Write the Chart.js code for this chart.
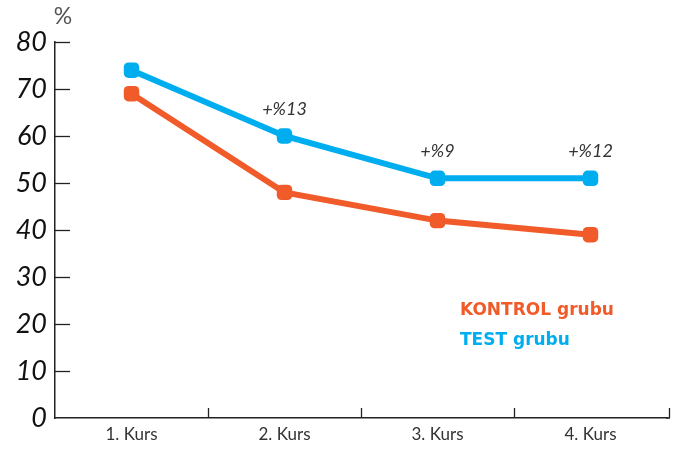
<!DOCTYPE html>
<html><head><meta charset="utf-8">
<script src="https://cdn.jsdelivr.net/npm/chart.js@4/dist/chart.umd.min.js"></script>
<style>html,body{margin:0;padding:0;background:#fff}#wrap{width:684px;height:452px}</style>
</head><body><div id="wrap"><canvas id="c" width="684" height="452"></canvas></div>
<script>
const categories = ['1. Kurs', '2. Kurs', '3. Kurs', '4. Kurs'];
const kontrolValues = [69, 48, 42, 39];
const testValues = [74, 60, 51, 51];
const diffLabels = ['', '+%13', '+%9', '+%12'];
const yTicks = [0, 10, 20, 30, 40, 50, 60, 70, 80];
const seriesNames = ['KONTROL grubu', 'TEST grubu'];
const ORANGE = '#F15A29', BLUE = '#00AEEF';

const extras = {
  id: 'extras',
  afterDraw(chart) {
    const ctx = chart.ctx, x = chart.scales.x, y = chart.scales.y, ca = chart.chartArea;
    ctx.save();
    ctx.strokeStyle = '#222'; ctx.lineWidth = 1.3;
    y.ticks.forEach((t, i) => {
      if (t.value === 0) return;
      const py = Math.round(y.getPixelForTick(i)) + 0.5;
      ctx.beginPath(); ctx.moveTo(ca.left, py); ctx.lineTo(ca.left + 15, py); ctx.stroke();
    });
    // extend baseline slightly past the plot
    ctx.lineWidth = 1.5;
    ctx.beginPath(); ctx.moveTo(ca.right - 1, ca.bottom); ctx.lineTo(ca.right + 3, ca.bottom); ctx.stroke();
    ctx.lineWidth = 1.3;
    for (let i = 1; i <= categories.length; i++) {
      let p = Math.round((x.getPixelForValue(i - 1) + x.getPixelForValue(i)) / 2) + 0.5;
      if (i === categories.length) p = Math.round(ca.right) + 2.5;
      ctx.beginPath(); ctx.moveTo(p, ca.bottom); ctx.lineTo(p, ca.bottom - 10); ctx.stroke();
    }
    ctx.fillStyle = '#555'; ctx.font = '23px "Lato"'; ctx.textAlign = 'center'; ctx.textBaseline = 'middle';
    ctx.fillText('%', ca.left + 8, 17);
    const meta = chart.getDatasetMeta(1);
    ctx.font = 'italic 18px "Lato"'; ctx.fillStyle = '#333';
    meta.data.forEach((pt, i) => {
      if (diffLabels[i]) ctx.fillText(diffLabels[i], pt.x, pt.y - 27);
    });
    ctx.textAlign = 'left'; ctx.font = 'bold 17px "DejaVu Sans"';
    ctx.fillStyle = ORANGE; ctx.fillText(seriesNames[0], 460, 311);
    ctx.fillStyle = BLUE; ctx.fillText(seriesNames[1], 460, 341);
    ctx.restore();
  }
};

new Chart(document.getElementById('c'), {
  type: 'line',
  data: {
    labels: categories,
    datasets: [
      { label: seriesNames[0], data: kontrolValues, borderColor: ORANGE, backgroundColor: ORANGE, borderWidth: 6,
        pointStyle: 'rectRounded', pointRadius: 9, pointHoverRadius: 9, pointBorderWidth: 0, tension: 0 },
      { label: seriesNames[1], data: testValues, borderColor: BLUE, backgroundColor: BLUE, borderWidth: 6,
        pointStyle: 'rectRounded', pointRadius: 9, pointHoverRadius: 9, pointBorderWidth: 0, tension: 0 }
    ]
  },
  options: {
    responsive: false, animation: false, devicePixelRatio: 1,
    layout: { padding: { top: 42, right: 17, left: 0, bottom: 0 } },
    plugins: { legend: { display: false }, tooltip: { enabled: false } },
    scales: {
      x: {
        offset: true,
        grid: { display: false, drawTicks: false },
        border: { display: true, color: '#222', width: 1.5 },
        ticks: { color: '#333', font: { family: 'Lato', size: 17 }, padding: 6 },
        afterFit(s) { s.height = 34; }
      },
      y: {
        min: 0, max: 80,
        afterBuildTicks(s) { s.ticks = yTicks.map(v => ({ value: v })); },
        grid: { display: false, drawTicks: false },
        border: { display: true, color: '#222', width: 1.5 },
        ticks: { color: '#111', font: { family: 'Lato', size: 27, style: 'italic' }, padding: 8 },
        afterFit(s) { s.width = 55; }
      }
    }
  },
  plugins: [extras]
});
</script></body></html>
